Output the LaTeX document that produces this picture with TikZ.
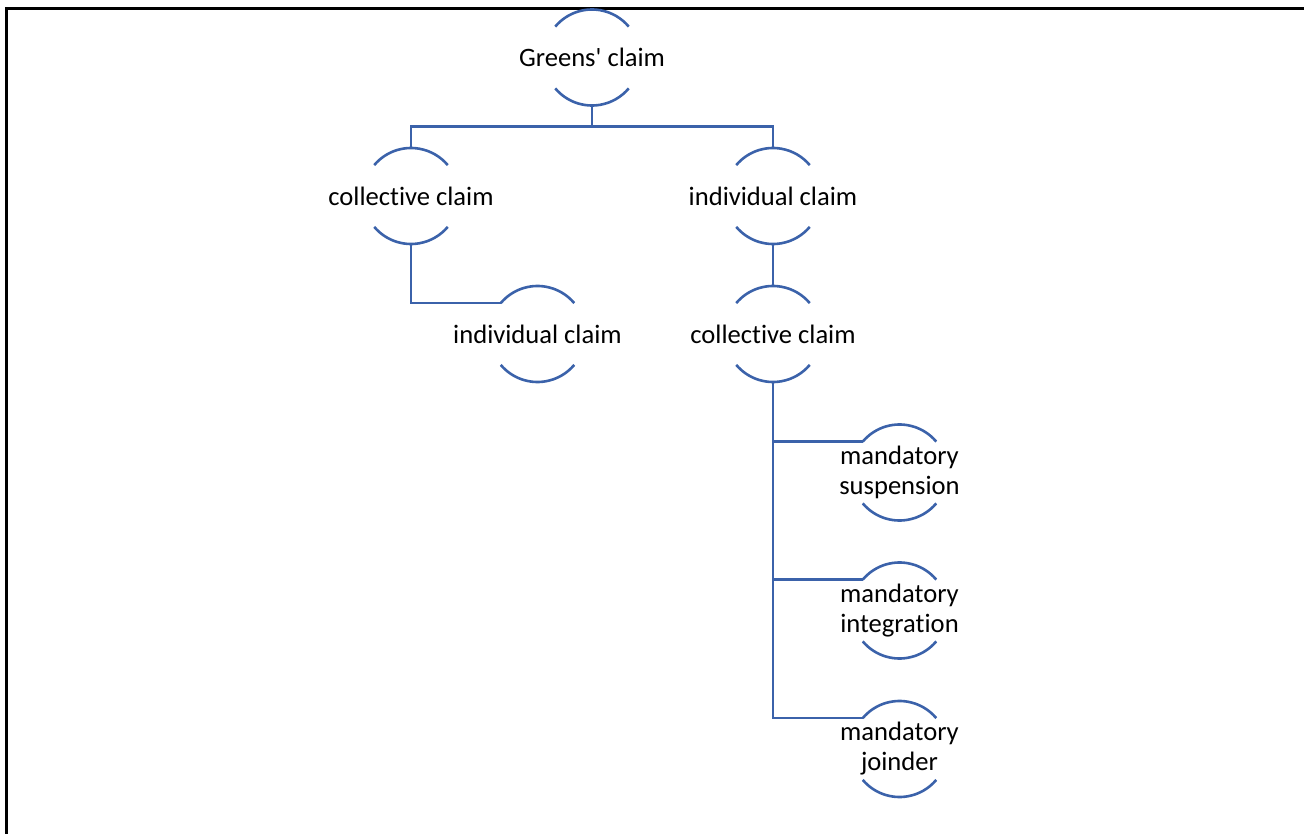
\documentclass[tikz,border=0pt]{standalone}
\usepackage{fontspec}
\setmainfont{Carlito}[Ligatures={NoCommon}]
\definecolor{smblue}{RGB}{59,98,170}
\begin{document}
\begin{tikzpicture}[x=1pt,y=1pt,
  lbl/.style={align=center,inner sep=0pt,font=\fontsize{26.6}{30}\selectfont,text=black},
  arcline/.style={draw=smblue,line width=2.6pt},
  conn/.style={draw=smblue,line width=2.6pt},
  frame/.style={draw=black,line width=3pt}]
\useasboundingbox (0,0) rectangle (1304,-834);
\draw[frame] (6,-834) -- (6,-9) -- (1304,-9);
% nodes
\node[lbl] (g)  at (592,-57.5) {Greens\textquotesingle{} claim};
\node[lbl] (cl) at (411,-196) {collective claim};
\node[lbl] (ir) at (773,-196) {individual claim};
\node[lbl] (il) at (537.5,-334) {individual claim};
\node[lbl] (cr) at (773,-334) {collective claim};
\node[lbl] (ms) at (899.5,-472.5) {mandatory\\suspension};
\node[lbl] (mi) at (899.5,-610.5) {mandatory\\integration};
\node[lbl] (mj) at (899.5,-749) {mandatory\\joinder};
% arcs and anchor coordinates
\foreach \n in {g,cl,ir,il,cr,ms,mi,mj}{
  \draw[arcline] ([shift={(140:48pt)}]\n.center) arc[start angle=140,end angle=40,radius=48pt];
  \draw[arcline] ([shift={(220:48pt)}]\n.center) arc[start angle=220,end angle=320,radius=48pt];
  \coordinate (\n-t) at ([yshift=48pt]\n.center);
  \coordinate (\n-b) at ([yshift=-48pt]\n.center);
  \coordinate (\n-l) at ([shift={(140:48pt)}]\n.center);
}
% connectors
\coordinate (bus) at (592,-126.5);
\draw[conn] (g-b) -- (bus);
\draw[conn] (bus) -| (cl-t);
\draw[conn] (bus) -| (ir-t);
\draw[conn] (cl-b) |- (il-l);
\draw[conn] (ir-b) -- (cr-t);
\draw[conn] (cr-b) |- (ms-l);
\draw[conn] (cr-b) |- (mi-l);
\draw[conn] (cr-b) |- (mj-l);
\end{tikzpicture}
\end{document}
